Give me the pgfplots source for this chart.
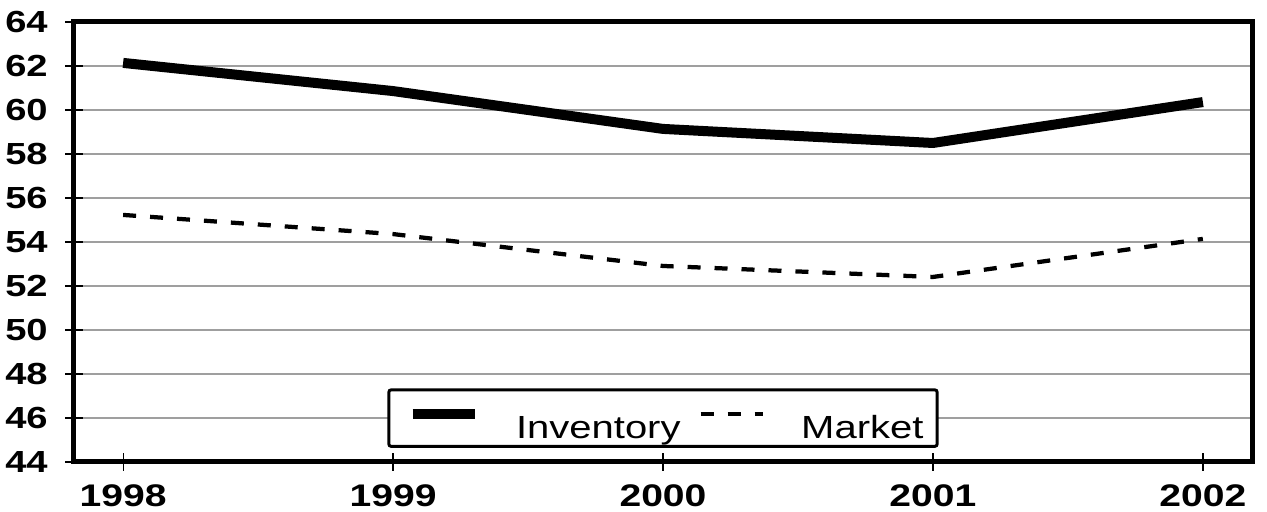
\documentclass[border=0pt]{standalone}
\usepackage{fontspec}
\setmainfont{Liberation Sans}[FakeStretch=1.25]
\usepackage{pgfplots}
\pgfplotsset{compat=1.18}
\begin{document}
\begin{tikzpicture}
\useasboundingbox (-29.6pt,-20pt) rectangle (477.2pt,184.8pt);
\begin{axis}[
 at={(0,0)}, anchor=south west,
 scale only axis, width=471.2pt, height=176pt,
 xmin=1997.818, xmax=2002.182, ymin=44, ymax=64,
 xtick={1998,1999,2000,2001,2002}, ytick={44,46,...,64},
 xtick pos=left, ytick pos=left, tick align=center,
 major tick length=7pt,
 tick style={black, line width=0.5pt},
 axis line style={line width=2pt},
 ymajorgrids, grid style={gray!75, line width=0.45pt},
 /pgf/number format/assume math mode=true,
 /pgf/number format/1000 sep={},
 ticklabel style={font=\fontsize{12.5}{14}\selectfont\bfseries},
 xticklabel style={yshift=-2pt},
 yticklabel style={xshift=-3.5pt, font=\fontsize{12.2}{14}\selectfont\bfseries},
 legend columns=2,
 legend style={at={(0.5,0.032)}, anchor=south, draw=black, line width=1.2pt, rounded corners=1pt,
   font=\fontsize{12.8}{14}\selectfont, inner xsep=3.5pt, inner ysep=1pt,
   nodes={text depth=0pt},
   /tikz/every odd column/.append style={column sep=12.4pt},
   /tikz/every even column/.append style={column sep=0pt}},
 legend image code/.code={\path[draw=none,fill=none] (-3pt,0) rectangle (28pt,0.7em+7pt); \draw[#1] (3pt,0.7em-1.6pt) -- (28pt,0.7em-1.6pt);},
]
\addplot[black, line width=4pt] coordinates {(1998,62.14) (1999,60.86) (2000,59.14) (2001,58.5) (2002,60.36)};
\addlegendentry{Inventory}
\addplot[black, line width=1.7pt, dash pattern=on 5.2pt off 5.6pt] coordinates {(1998,55.23) (1999,54.36) (2000,52.91) (2001,52.41) (2002,54.14)};
\addlegendentry{Market}
\end{axis}
\end{tikzpicture}
\end{document}
